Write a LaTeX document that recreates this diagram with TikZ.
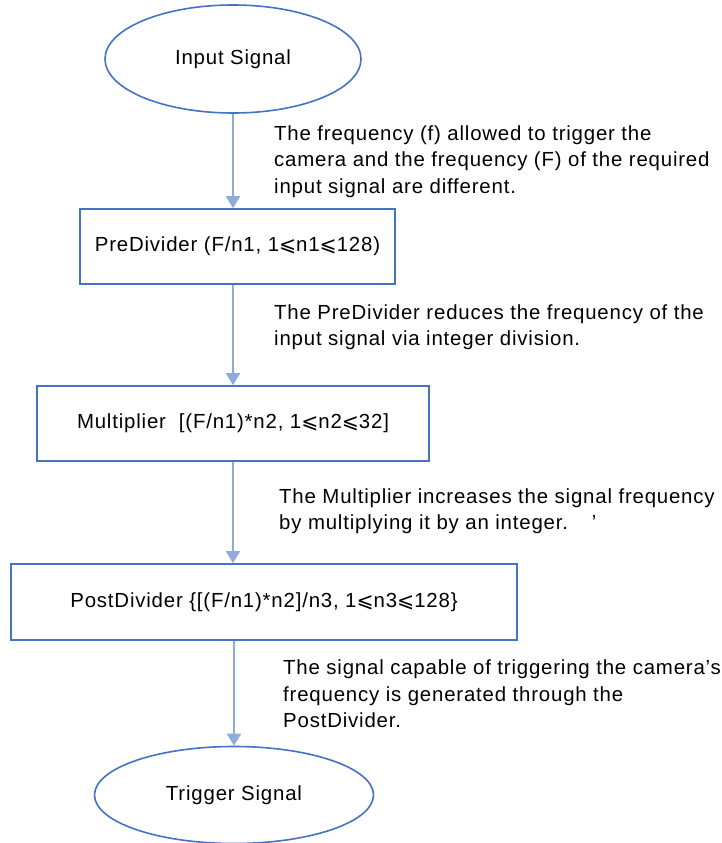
\documentclass[tikz,border=0pt]{standalone}
\usepackage{fontspec}
\setmainfont{Liberation Sans}[LetterSpace=4]
\newfontfamily\symfont{DejaVu Sans}
\usetikzlibrary{shapes.geometric,arrows.meta}
\definecolor{boxblue}{HTML}{4472C4}
\definecolor{arrowblue}{HTML}{8FAADC}
\newcommand{\leqs}{{\symfont ⩽}}

\begin{document}
\begin{tikzpicture}[x=1pt,y=-1pt,
  font=\fontsize{20.4}{26.5}\selectfont,
  blk/.style={draw=boxblue,line width=1.6pt,inner sep=0pt},
  oval/.style={blk,ellipse},
  boxnode/.style={blk,rectangle},
  note/.style={anchor=north west,align=left,inner sep=0pt},
  flow/.style={draw=arrowblue,line width=1.8pt,-{Triangle[width=14pt,length=12pt]}}]
  \useasboundingbox (0,0) rectangle (722,843);
  % flow chart
  \node[oval,minimum width=256pt,minimum height=108pt] (in) at (233,59) {Input Signal};
  \node[boxnode,minimum width=315pt,minimum height=75pt] (pre) at (237.5,246.5)
    {PreDivider (F/n1, 1\leqs n1\leqs 128)};
  \node[boxnode,minimum width=392pt,minimum height=75pt] (mul) at (233,423.5)
    {Multiplier\ \ [(F/n1)*n2, 1\leqs n2\leqs 32]};
  \node[boxnode,minimum width=506pt,minimum height=76pt] (post) at (264,602)
    {PostDivider \{[(F/n1)*n2]/n3, 1\leqs n3\leqs 128\}};
  \node[oval,minimum width=279pt,minimum height=97pt] (trig) at (234,795) {Trigger Signal};
  % arrows
  \draw[flow] (in.south) -- (in.south |- pre.north);
  \draw[flow] (in.south |- pre.south) -- (in.south |- mul.north);
  \draw[flow] (in.south |- mul.south) -- (in.south |- post.north);
  \draw[flow] (trig.north |- post.south) -- (trig.north);
  % notes
  \node[note] (n1) at (274,125.5) {The frequency (f) allowed to trigger the\\
    camera and the frequency (F) of the required\\input signal are different.};
  \node[note] (n2) at (274,304.5) {The PreDivider reduces the frequency of the\\
    input signal via integer division.};
  \node[note] (n3) at (279,488.5) {The Multiplier increases the signal frequency\\
    by multiplying it by an integer.\hspace{24pt}’};
  \node[note] (n4) at (283,660) {The signal capable of triggering the camera’s\\
    frequency is generated through the\\PostDivider.};
\end{tikzpicture}
\end{document}
